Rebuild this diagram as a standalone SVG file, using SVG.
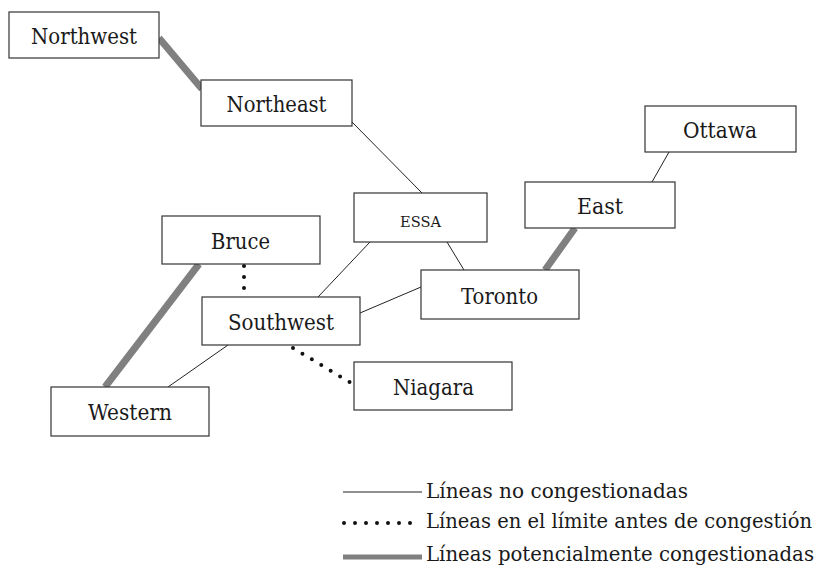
<svg xmlns="http://www.w3.org/2000/svg" width="820" height="571" viewBox="0 0 820 571">
<style>
  .box { fill: #fff; stroke: #333; stroke-width: 1.2; }
  .lbl { font-family: "DejaVu Serif", "Liberation Serif", serif; font-size: 23px; fill: #1a1a1a; text-anchor: middle; }
  .small { font-size: 15px; }
  .leg { font-family: "DejaVu Serif", "Liberation Serif", serif; font-size: 19.5px; fill: #1a1a1a; }
  .thin { stroke: #222; stroke-width: 1; fill: none; }
  .thick { stroke: #808080; stroke-width: 7; fill: none; }
  .dot { stroke: #111; stroke-width: 4; stroke-linecap: round; stroke-dasharray: 0 11; fill: none; }
</style>
<rect width="820" height="571" fill="#fff"/>
<g id="connectors">
  <line class="thick" x1="159" y1="38" x2="202" y2="89"/>
  <line class="thin" x1="352" y1="122" x2="422" y2="193"/>
  <line class="thin" x1="669" y1="152" x2="652" y2="182"/>
  <line class="thick" x1="575" y1="228" x2="545" y2="270"/>
  <line class="thin" x1="447" y1="242" x2="464" y2="270"/>
  <line class="thin" x1="370" y1="242" x2="318" y2="297"/>
  <line class="thin" x1="421" y1="287" x2="360" y2="313"/>
  <line class="thin" x1="228" y1="345" x2="168" y2="387"/>
  <line class="thick" x1="199" y1="264" x2="105" y2="387"/>
  <line class="dot" x1="244" y1="266" x2="244" y2="290"/>
  <line class="dot" x1="293" y1="348" x2="351" y2="383"/>
</g>
<g id="Northwest"><rect class="box" x="9" y="12" width="150" height="46"/><text class="lbl" x="84" y="44" textLength="106" lengthAdjust="spacingAndGlyphs">Northwest</text></g>
<g id="Northeast"><rect class="box" x="201" y="80" width="151" height="46"/><text class="lbl" x="276.5" y="112" textLength="100" lengthAdjust="spacingAndGlyphs">Northeast</text></g>
<g id="Ottawa"><rect class="box" x="645" y="106" width="151" height="46"/><text class="lbl" x="720" y="138" textLength="74" lengthAdjust="spacingAndGlyphs">Ottawa</text></g>
<g id="East"><rect class="box" x="525" y="182" width="150" height="46"/><text class="lbl" x="600" y="214" textLength="46" lengthAdjust="spacingAndGlyphs">East</text></g>
<g id="ESSA"><rect class="box" x="354" y="193" width="133" height="49"/><text class="lbl small" x="420.5" y="227" textLength="41" lengthAdjust="spacingAndGlyphs">ESSA</text></g>
<g id="Toronto"><rect class="box" x="421" y="270" width="158" height="49"/><text class="lbl" x="499.5" y="304" textLength="77" lengthAdjust="spacingAndGlyphs">Toronto</text></g>
<g id="Bruce"><rect class="box" x="162" y="216" width="158" height="48"/><text class="lbl" x="240.5" y="249" textLength="59" lengthAdjust="spacingAndGlyphs">Bruce</text></g>
<g id="Southwest"><rect class="box" x="202" y="297" width="158" height="48"/><text class="lbl" x="281" y="330" textLength="106" lengthAdjust="spacingAndGlyphs">Southwest</text></g>
<g id="Niagara"><rect class="box" x="354" y="362" width="158" height="48"/><text class="lbl" x="433.5" y="395" textLength="81" lengthAdjust="spacingAndGlyphs">Niagara</text></g>
<g id="Western"><rect class="box" x="51" y="387" width="158" height="49"/><text class="lbl" x="130" y="420" textLength="84" lengthAdjust="spacingAndGlyphs">Western</text></g>
<g id="legend">
  <line class="thin" x1="343" y1="492" x2="422" y2="492"/>
  <text class="leg" x="426" y="498" textLength="262" lengthAdjust="spacingAndGlyphs">Líneas no congestionadas</text>
  <line class="dot" stroke-width="3.5" stroke-dasharray="0 9.6" x1="344" y1="523" x2="421" y2="523"/>
  <text class="leg" x="426" y="528" textLength="386" lengthAdjust="spacingAndGlyphs">Líneas en el límite antes de congestión</text>
  <line stroke="#808080" stroke-width="5" x1="343" y1="557" x2="422" y2="557"/>
  <text class="leg" x="426" y="561" textLength="388" lengthAdjust="spacingAndGlyphs">Líneas potencialmente congestionadas</text>
</g>
</svg>
